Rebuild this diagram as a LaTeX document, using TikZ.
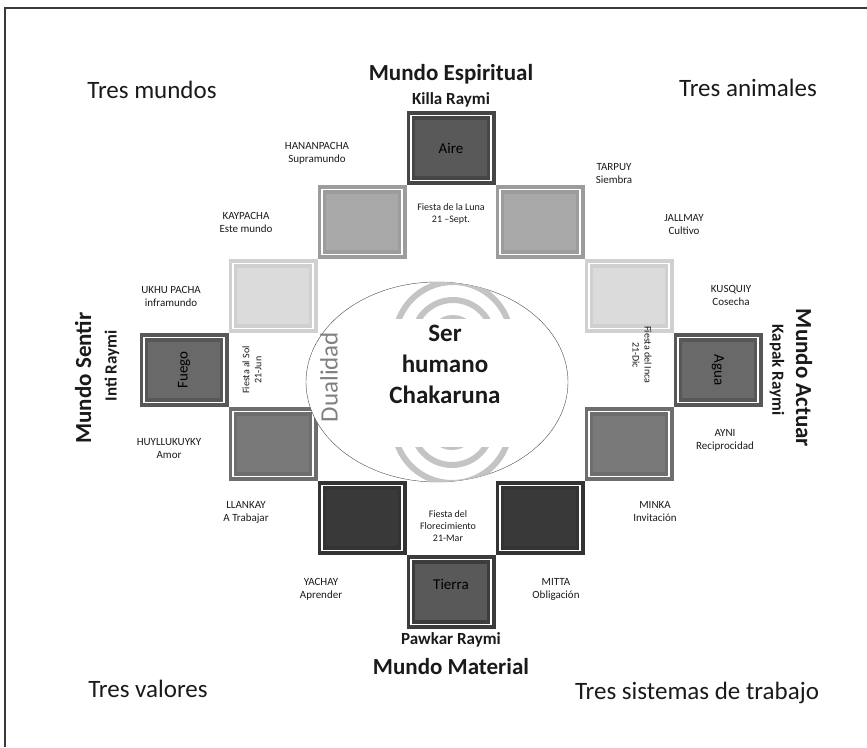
\documentclass[tikz,border=0pt]{standalone}
\usepackage{fontspec}
\setmainfont{Carlito}
\usetikzlibrary{shapes.geometric}

\definecolor{inkc}{HTML}{1A1A1A}
\definecolor{framec}{HTML}{3A3A3A}
\definecolor{dualc}{HTML}{808080}
\definecolor{ringc}{HTML}{C4C4C4}

\tikzset{
  cell/.style={minimum width=80.2pt, minimum height=65.2pt, inner sep=0pt,
    line width=3.6pt, double=white, double distance=1.6pt},
  lbl/.style={font=\fontsize{11}{13}\selectfont, align=center, text=inkc},
  fiesta/.style={font=\fontsize{10}{12}\selectfont, align=center, text=inkc},
  mundo/.style={font=\fontsize{23}{26}\selectfont\bfseries, text=inkc},
  raymi/.style={font=\fontsize{17}{20}\selectfont\bfseries, text=inkc},
  tres/.style={font=\fontsize{25}{28}\selectfont, text=inkc},
  elem/.style={font=\fontsize{15}{18}\selectfont, text=black},
}

\begin{document}
\begin{tikzpicture}[x=1pt, y=-1pt]
  \useasboundingbox (0,0) rectangle (867,747);
  \draw[framec, line width=1.6pt] (5,747) -- (5,8) -- (867,8);

  % cuadros
  \node[cell, draw=gray!55!black, fill=gray!70!black] (aire) at (451,148) {};
  \node[cell, draw=gray!78, fill=gray!68] (hanan) at (362,222) {};
  \node[cell, draw=gray!78, fill=gray!68] (tarpuy) at (540,222) {};
  \node[cell, draw=gray!37, fill=gray!28] (kay) at (273,296) {};
  \node[cell, draw=gray!37, fill=gray!28] (jallmay) at (629,296) {};
  \node[cell, draw=gray!68!black, fill=gray!82!black] (fuego) at (184,370) {};
  \node[cell, draw=gray!68!black, fill=gray!82!black] (agua) at (718,370) {};
  \node[cell, draw=gray!86!black, fill=gray!95!black] (huyllu) at (273,444) {};
  \node[cell, draw=gray!86!black, fill=gray!95!black] (ayni) at (629,444) {};
  \node[cell, draw=gray!40!black, fill=gray!45!black] (llankay) at (362,518) {};
  \node[cell, draw=gray!40!black, fill=gray!45!black] (minka) at (540,518) {};
  \node[cell, draw=gray!47!black, fill=gray!70!black] (tierra) at (451,592) {};

  \node[elem] at (aire) {Aire};
  \node[elem, rotate=90] at (fuego) {Fuego};
  \node[elem, rotate=-90] at (agua) {Agua};
  \node[elem] at (451,584) {Tierra};

  % fiestas
  \node[fiesta] (luna) at (451,214) {Fiesta de la Luna\\21 --Sept.};
  \node[fiesta] (flor) at (448,526) {Fiesta del\\Florecimiento\\21-Mar};
  \node[fiesta, rotate=90] (sol) at (252,370) {Fiesta al Sol\\21-Jun};
  \node[fiesta, rotate=-90] (inca) at (642,355) {Fiesta del Inca\\21-Dic};

  % centro
  \node[ellipse, draw=gray!60!black, fill=white, minimum width=262pt,
    minimum height=200pt] (ojo) at (437,382) {};
  \begin{scope}
    \clip (437,382) ellipse (131 and 100);
    \clip (380,280) rectangle (520,318);
    \foreach \r in {22,40,58}
      \draw[ringc, line width=6pt] (453,340) circle (\r);
  \end{scope}
  \begin{scope}
    \clip (437,382) ellipse (131 and 100);
    \clip (380,447) rectangle (520,485);
    \foreach \r in {22,40,58}
      \draw[ringc, line width=6pt] (452,425) circle (\r);
  \end{scope}
  \node[font=\fontsize{25}{31}\selectfont\bfseries, align=center, text=inkc]
    (ser) at (445,364) {Ser\\humano\\Chakaruna};
  \node[font=\fontsize{25}{28}\selectfont, text=dualc, rotate=90]
    (dual) at (329,377) {Dualidad};

  % mundos
  \node[mundo] (espiritual) at (451,74) {Mundo Espiritual};
  \node[raymi] (killa) at (451,100) {Killa Raymi};
  \node[raymi] (pawkar) at (451,640) {Pawkar Raymi};
  \node[mundo] (material) at (451,667) {Mundo Material};
  \node[mundo, rotate=90] (sentir) at (83,378) {Mundo Sentir};
  \node[raymi, rotate=90] (inti) at (112,366) {Inti Raymi};
  \node[mundo, rotate=-90] (actuar) at (804,378) {Mundo Actuar};
  \node[raymi, rotate=-90] (kapak) at (777,370) {Kapak Raymi};

  % esquinas
  \node[tres] (tmundos) at (152,90) {Tres mundos};
  \node[tres] (tanimales) at (748,88) {Tres animales};
  \node[tres] (tvalores) at (148,689) {Tres valores};
  \node[tres] (tsistemas) at (697,693) {Tres sistemas de trabajo};

  % etiquetas
  \node[lbl] (lhanan) at (317,153) {HANANPACHA\\Supramundo};
  \node[lbl] (lkay) at (246,222) {KAYPACHA\\Este mundo};
  \node[lbl] (lukhu) at (171,296) {UKHU PACHA\\inframundo};
  \node[lbl] (lhuyllu) at (169,449) {HUYLLUKUYKY\\Amor};
  \node[lbl] (lllankay) at (246,512) {LLANKAY\\A Trabajar};
  \node[lbl] (lyachay) at (321,589) {YACHAY\\Aprender};
  \node[lbl] (ltarpuy) at (614,174) {TARPUY\\Siembra};
  \node[lbl] (ljallmay) at (684,225) {JALLMAY\\Cultivo};
  \node[lbl] (lkusquiy) at (731,295) {KUSQUIY\\Cosecha};
  \node[lbl] (layni) at (725,440) {AYNI\\Reciprocidad};
  \node[lbl] (lminka) at (655,512) {MINKA\\Invitación};
  \node[lbl] (lmitta) at (556,589) {MITTA\\Obligación};
\end{tikzpicture}
\end{document}
